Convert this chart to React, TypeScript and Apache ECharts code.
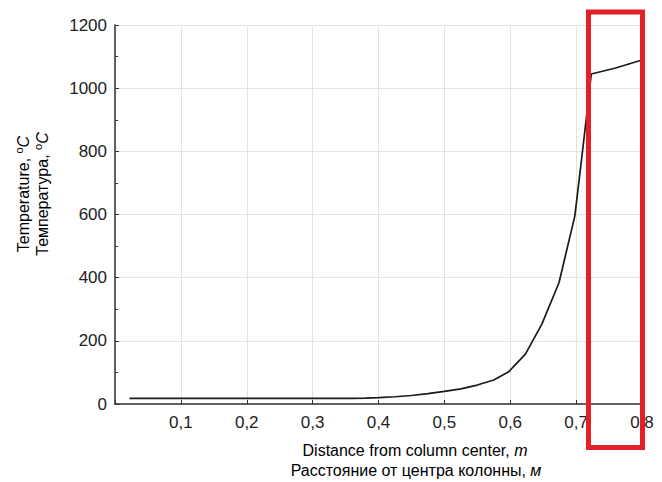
import React, { useEffect, useRef } from "react";
import * as echarts from "echarts";

const distance = [0.022, 0.1, 0.2, 0.3, 0.36, 0.38, 0.4, 0.425, 0.45, 0.475, 0.5, 0.525, 0.55, 0.575, 0.597, 0.623, 0.648, 0.674, 0.698, 0.708, 0.718, 0.723, 0.76, 0.8];
const temperature = [18, 18, 18, 18, 18, 18.5, 20, 23, 27, 33, 40, 48, 60, 76, 101, 158, 253, 384, 595, 770, 950, 1045, 1064, 1089];
const xTicks = [0.1, 0.2, 0.3, 0.4, 0.5, 0.6, 0.7, 0.8];
const yTicks = [0, 200, 400, 600, 800, 1000, 1200];

const FONT = "'Liberation Sans', Arial, Helvetica, sans-serif";

export default function App() {
  const ref = useRef<HTMLDivElement>(null);
  useEffect(() => {
    if (!ref.current) return;
    const chart = echarts.init(ref.current, undefined, { renderer: "svg" });
    const rich = {
      a: { fontSize: 16, fontFamily: FONT, color: "#222" },
      s: { fontSize: 11, fontFamily: FONT, color: "#222", padding: [0, 0, 8, 0] },
      i: { fontSize: 16, fontFamily: FONT, color: "#222", fontStyle: "italic" },
    };
    chart.setOption({
      animation: false,
      backgroundColor: "#fff",
      grid: { left: 115, top: 25, right: 20, bottom: 78, containLabel: false },
      xAxis: {
        type: "value",
        min: 0,
        max: 0.8,
        interval: 0.1,
        axisLine: { show: true, lineStyle: { color: "#333", width: 1.5 } },
        axisTick: { show: true, inside: true, length: 4, lineStyle: { color: "#333" } },
        axisLabel: {
          fontSize: 17,
          fontFamily: FONT,
          color: "#222",
          margin: 10,
          formatter: (v: number) => {
            const r = Math.round(v * 10) / 10;
            return xTicks.includes(r) ? String(r).replace(".", ",") : "";
          },
        },
        splitLine: { show: true, lineStyle: { color: "#e3e3e3", width: 1 } },
      },
      yAxis: {
        type: "value",
        min: 0,
        max: 1200,
        interval: 200,
        axisLine: { show: true, lineStyle: { color: "#333", width: 1.5 } },
        axisTick: { show: true, inside: true, length: 4, lineStyle: { color: "#333" } },
        minorTick: { show: true, splitNumber: 2, length: 3, lineStyle: { color: "#333" } },
        axisLabel: {
          fontSize: 17,
          fontFamily: FONT,
          color: "#222",
          margin: 8,
          formatter: (v: number) => (yTicks.includes(v) ? String(v) : ""),
        },
        splitLine: { show: true, lineStyle: { color: "#e3e3e3", width: 1 } },
      },
      series: [
        {
          type: "line",
          data: distance.map((d, i) => [d, temperature[i]]),
          showSymbol: false,
          smooth: false,
          lineStyle: { color: "#1a1a1a", width: 1.7 },
        },
      ],
      graphic: [
        {
          type: "text",
          x: 23,
          y: 194,
          rotation: Math.PI / 2,
          style: {
            text: "{a|Temperature, }{s|o}{i|C}",
            rich,
            align: "center",
            verticalAlign: "middle",
          },
        },
        {
          type: "text",
          x: 42,
          y: 194,
          rotation: Math.PI / 2,
          style: {
            text: "{a|Температура, }{s|o}{i|C}",
            rich,
            align: "center",
            verticalAlign: "middle",
          },
        },
        {
          type: "text",
          x: 415,
          y: 450,
          style: {
            text: "{a|Distance from column center, }{i|m}",
            rich,
            align: "center",
            verticalAlign: "middle",
          },
        },
        {
          type: "text",
          x: 416,
          y: 470,
          style: {
            text: "{a|Расстояние от центра колонны, }{i|м}",
            rich,
            align: "center",
            verticalAlign: "middle",
          },
        },
        {
          type: "rect",
          z: 100,
          shape: { x: 588.5, y: 12, width: 54, height: 435.5 },
          style: { fill: "none", stroke: "#e41f26", lineWidth: 5 },
        },
      ],
    });
    return () => chart.dispose();
  }, []);
  return (
    <div
      ref={ref}
      style={{ position: "fixed", left: 0, top: 0, width: 662, height: 482 }}
    />
  );
}
